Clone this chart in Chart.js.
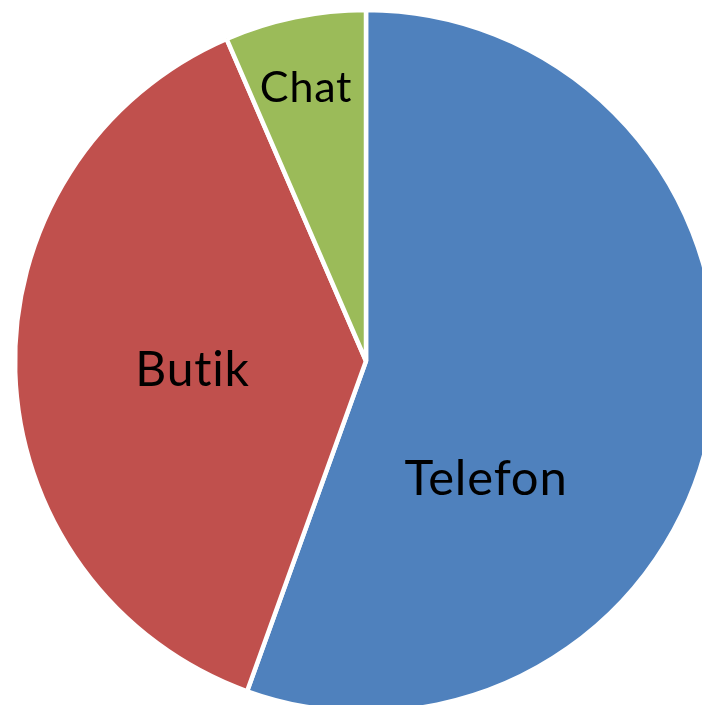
<!DOCTYPE html>
<html>
<head>
<meta charset="utf-8">
<style>
    html, body { margin: 0; padding: 0; background: #fff; overflow: hidden; }
    #wrap { position: absolute; left: 0; top: 0; width: 732px; height: 722px; }
</style>
<script src="https://cdn.jsdelivr.net/npm/chart.js@4"></script>
</head>
<body>
<div id="wrap"><canvas id="pieChart" width="732" height="722"></canvas></div>
<script>
// Data
const categories = ['Telefon', 'Butik', 'Chat'];
const shares = [55.5, 38.0, 6.5];
const sliceColors = ['#4F81BD', '#C0504D', '#9BBB59'];

// Label placement (Excel "best fit"): fraction of radius, angle shift in degrees, font size
const labelRadius = [0.48, 0.495, 0.795];
const labelShift = [34.7, -1.5, -0.7];
const labelSize = [49, 48, 43];

const labelPlugin = {
    id: 'sliceLabels',
    afterDatasetsDraw(chart) {
        const ctx = chart.ctx;
        const meta = chart.getDatasetMeta(0);
        ctx.save();
        ctx.fillStyle = '#000';
        ctx.textAlign = 'center';
        ctx.textBaseline = 'middle';
        // non-zero spacing keeps Lato from joining "ti"
        ctx.letterSpacing = '0.8px';
        meta.data.forEach((arc, i) => {
            const p = arc.getProps(['x', 'y', 'startAngle', 'endAngle', 'outerRadius']);
            const mid = (p.startAngle + p.endAngle) / 2 + labelShift[i] * Math.PI / 180;
            const r = p.outerRadius * labelRadius[i];
            ctx.font = labelSize[i] + 'px Lato';
            ctx.fillText(categories[i], p.x + Math.cos(mid) * r, p.y + Math.sin(mid) * r);
        });
        ctx.restore();
    }
};

const ctx = document.getElementById('pieChart').getContext('2d');
new Chart(ctx, {
    type: 'pie',
    data: {
        labels: categories,
        datasets: [{
            data: shares,
            backgroundColor: sliceColors,
            borderColor: '#fff',
            borderWidth: 4.5,
            radius: 351
        }]
    },
    options: {
        responsive: false,
        animation: false,
        layout: { padding: 0 },
        plugins: {
            legend: { display: false },
            tooltip: { enabled: false }
        }
    },
    plugins: [labelPlugin]
});
</script>
</body>
</html>
